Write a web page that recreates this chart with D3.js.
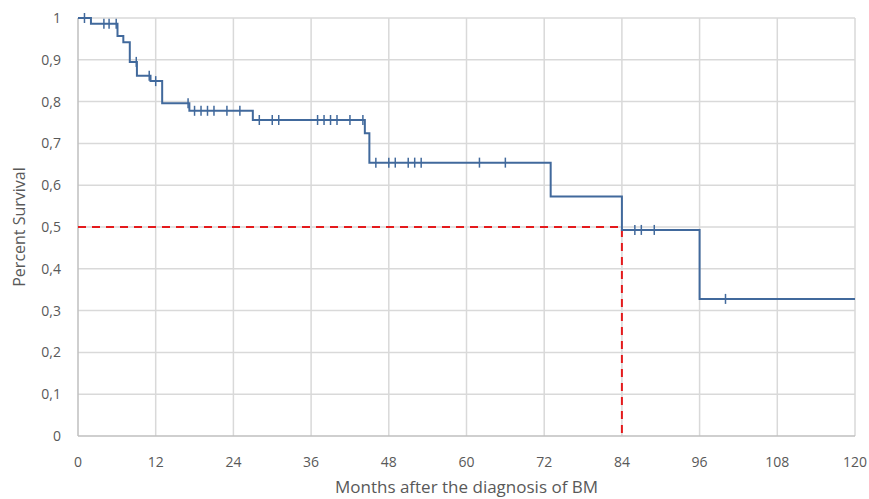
<!DOCTYPE html>
<html>
<head>
<meta charset="utf-8">
<script src="https://cdn.jsdelivr.net/npm/d3@7"></script>
<style>
  body { margin: 0; background: #fff; }
  svg { font-family: "Open Sans", "Liberation Sans", sans-serif; }
</style>
</head>
<body>
<div id="chart"></div>
<script>
// Kaplan-Meier steps (time in months, survival after the drop)
var stepTimes    = [0, 2, 6.1, 7, 8, 9.1, 11.2, 13, 17.2, 27, 44.3, 45, 73, 84, 96];
var stepSurvival = [1, 0.986, 0.957, 0.942, 0.895, 0.862, 0.849, 0.796, 0.778, 0.756, 0.724, 0.654, 0.573, 0.493, 0.328];
// censored observations
var censorTimes = [1, 4, 4.8, 5.9, 9, 11, 12, 17, 18, 19, 20, 21, 23, 25, 28, 30, 31,
                   37, 38, 39, 40, 42, 44, 46, 48, 49, 51, 52, 53, 62, 66, 86, 87, 89, 100];
var xTicks = [0, 12, 24, 36, 48, 60, 72, 84, 96, 108, 120];
var yTicks = [0, 0.1, 0.2, 0.3, 0.4, 0.5, 0.6, 0.7, 0.8, 0.9, 1];
var medianSurvival = 0.5;
var medianTime = 84;
var endTime = 120;

var width = 869, height = 499;
var margin = {top: 18, right: 14, bottom: 63, left: 78};

var svg = d3.select("#chart").append("svg")
  .attr("width", width)
  .attr("height", height);

var x = d3.scaleLinear().domain([0, 120]).range([margin.left, width - margin.right]);
var y = d3.scaleLinear().domain([0, 1]).range([height - margin.bottom, margin.top]);

// gridlines
svg.append("g").selectAll("line.h")
  .data(yTicks.filter(function (d) { return d > 0; }))
  .enter().append("line")
  .attr("x1", x(0)).attr("x2", x(120))
  .attr("y1", function (d) { return y(d); })
  .attr("y2", function (d) { return y(d); })
  .attr("stroke", "#d9d9d9").attr("stroke-width", 1.5);

svg.append("g").selectAll("line.v")
  .data(xTicks.filter(function (d) { return d > 0; }))
  .enter().append("line")
  .attr("y1", y(0)).attr("y2", y(1))
  .attr("x1", function (d) { return x(d); })
  .attr("x2", function (d) { return x(d); })
  .attr("stroke", "#d9d9d9").attr("stroke-width", 1.5);

// axis lines
svg.append("line").attr("x1", x(0)).attr("x2", x(0)).attr("y1", y(0)).attr("y2", y(1))
  .attr("stroke", "#bfbfbf").attr("stroke-width", 1.5);
svg.append("line").attr("x1", x(0)).attr("x2", x(120)).attr("y1", y(0)).attr("y2", y(0))
  .attr("stroke", "#bfbfbf").attr("stroke-width", 1.5);

// tick labels
svg.append("g").selectAll("text")
  .data(yTicks)
  .enter().append("text")
  .attr("x", 61)
  .attr("y", function (d) { return y(d); })
  .attr("dy", "0.35em")
  .attr("text-anchor", "end")
  .attr("font-size", 14)
  .attr("fill", "#595959")
  .text(function (d) { return d === 0 || d === 1 ? String(d) : String(d).replace(".", ","); });

svg.append("g").selectAll("text")
  .data(xTicks)
  .enter().append("text")
  .attr("x", function (d) { return x(d); })
  .attr("y", 467)
  .attr("text-anchor", "middle")
  .attr("font-size", 14)
  .attr("fill", "#595959")
  .text(function (d) { return d; });

// axis titles
svg.append("text")
  .attr("transform", "translate(25," + y(0.5) + ") rotate(-90)")
  .attr("text-anchor", "middle")
  .attr("font-size", 16)
  .attr("fill", "#595959")
  .text("Percent Survival");

svg.append("text")
  .attr("x", (x(0) + x(120)) / 2)
  .attr("y", 493)
  .attr("text-anchor", "middle")
  .attr("font-size", 17)
  .attr("fill", "#595959")
  .text("Months after the diagnosis of BM");

// median lines
svg.append("path")
  .attr("d", d3.line()([[x(0), y(medianSurvival)], [x(medianTime), y(medianSurvival)], [x(medianTime), y(0)]]))
  .attr("fill", "none")
  .attr("stroke", "#e41a1c")
  .attr("stroke-width", 2)
  .attr("stroke-dasharray", "8,6");

// survival curve
var pts = stepTimes.map(function (t, i) { return [t, stepSurvival[i]]; });
pts.push([endTime, stepSurvival[stepSurvival.length - 1]]);
var line = d3.line()
  .x(function (d) { return x(d[0]); })
  .y(function (d) { return y(d[1]); })
  .curve(d3.curveStepAfter);

svg.append("path")
  .datum(pts)
  .attr("d", line)
  .attr("fill", "none")
  .attr("stroke", "#41699c")
  .attr("stroke-width", 2);

function survAt(t) {
  var s = stepSurvival[0];
  for (var i = 0; i < stepTimes.length; i++) {
    if (stepTimes[i] <= t) s = stepSurvival[i];
  }
  return s;
}

svg.append("g").selectAll("line")
  .data(censorTimes)
  .enter().append("line")
  .attr("x1", function (d) { return x(d); })
  .attr("x2", function (d) { return x(d); })
  .attr("y1", function (d) { return y(survAt(d)) - 5; })
  .attr("y2", function (d) { return y(survAt(d)) + 5; })
  .attr("stroke", "#41699c")
  .attr("stroke-width", 1.5);
</script>
</body>
</html>
